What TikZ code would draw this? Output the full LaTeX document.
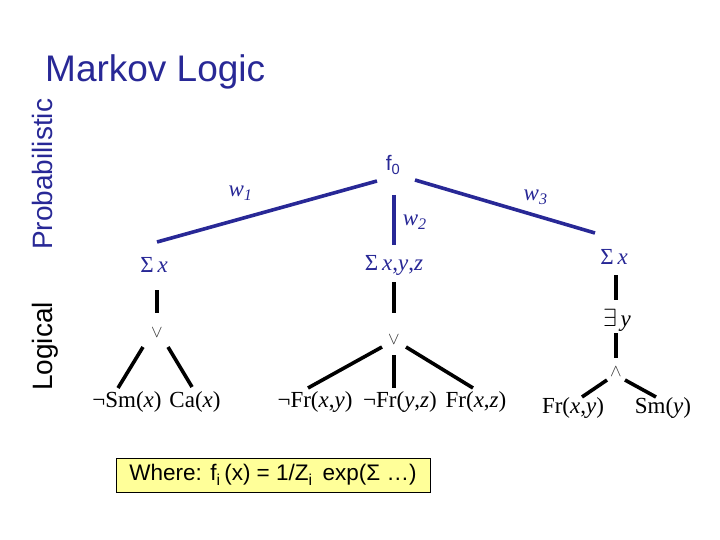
\documentclass[tikz,border=0pt]{standalone}
\usepackage{fontspec}
\setmainfont{Liberation Serif}
\setsansfont{Liberation Sans}
\usetikzlibrary{calc}
\definecolor{mlblue}{RGB}{40,40,150}
\definecolor{notefill}{RGB}{255,255,153}

\begin{document}
\begin{tikzpicture}[
  x=1pt, y=-1pt,
  lbl/.style={inner sep=1pt, font=\fontsize{23}{26}\selectfont},
  qnt/.style={lbl, text=mlblue},
  op/.style={inner sep=1pt, font=\fontsize{16}{16}\selectfont, text=black!80},
  wt/.style={inner sep=1pt, font=\fontsize{23}{26}\selectfont\itshape, text=mlblue},
  blu/.style={draw=mlblue, line width=3.6pt},
  blk/.style={draw=black, line width=3.6pt},
  side/.style={rotate=90, anchor=base west, inner sep=0pt, font=\sffamily\fontsize{28}{30}\selectfont}
]
  \useasboundingbox (0,0) rectangle (720,540);

  \node[anchor=base west, inner sep=0pt, text=mlblue, font=\sffamily\fontsize{37}{40}\selectfont] (title) at (45,82) {Markov Logic};
  \node[side, text=mlblue] (prob) at (52,250) {Probabilistic};
  \node[side] (logic) at (52,391) {Logical};

  \node[inner sep=1pt, text=mlblue, font=\sffamily\fontsize{21}{24}\selectfont] (f0) at (393,165) {f\textsubscript{0}};
  \node[qnt] (sx1) at (154,265) {Σ\,\textit{x}};
  \node[qnt] (sxyz) at (394,265) {Σ\,\textit{x},\textit{y},\textit{z}};
  \node[qnt] (sx3) at (614,257) {Σ\,\textit{x}};
  \node[op] (or1) at (157,333) {$\vee$};
  \node[op] (or2) at (394,340) {$\vee$};
  \node[lbl] (ex) at (617,320) {$\exists$\,\textit{y}};
  \node[op] (and) at (616,372) {$\wedge$};

  \node[lbl] (smx) at (127,402) {¬Sm(\textit{x})};
  \node[lbl] (cax) at (195,402) {Ca(\textit{x})};
  \node[lbl] (frxy) at (315,402) {¬Fr(\textit{x},\textit{y})};
  \node[lbl] (fryz) at (400,402) {¬Fr(\textit{y},\textit{z})};
  \node[lbl] (frxz) at (476,402) {Fr(\textit{x},\textit{z})};
  \node[lbl] (fr) at (573,408) {Fr(\textit{x},\textit{y})};
  \node[lbl] (smy) at (663,408) {Sm(\textit{y})};

  \draw[blu] ($(f0)+(-16,16)$) -- node[wt, pos=0.62, above=16pt] {w\textsubscript{1}} ($(sx1)+(3,-23)$);
  \draw[blu] ($(f0)+(1,30)$) -- node[wt, pos=0.55, right=6pt] {w\textsubscript{2}} ($(sxyz)+(0,-20)$);
  \draw[blu] ($(f0)+(22,15)$) -- node[wt, pos=0.67, above=8pt] {w\textsubscript{3}} ($(sx3)+(-19,-24)$);

  \draw[blk] ($(sx1)+(3,25)$) -- ($(or1)+(0,-20)$);
  \draw[blk] ($(or1)+(-14,14)$) -- ($(smx)+(-9,-14)$);
  \draw[blk] ($(or1)+(11,14)$) -- ($(cax)+(-3,-15)$);

  \draw[blk] ($(sxyz)+(0,17)$) -- ($(or2)+(0,-27)$);
  \draw[blk] ($(or2)+(-12,7)$) -- ($(frxy)+(-7,-14)$);
  \draw[blk] ($(or2)+(0,15)$) -- ($(fryz)+(-6,-14)$);
  \draw[blk] ($(or2)+(12,7)$) -- ($(frxz)+(-3,-14)$);

  \draw[blk] ($(sx3)+(2,18)$) -- ($(ex)+(-1,-20)$);
  \draw[blk] ($(ex)+(-1,13)$) -- ($(and)+(0,-14)$);
  \draw[blk] ($(and)+(-9,8)$) -- ($(fr)+(9,-11)$);
  \draw[blk] ($(and)+(9,8)$) -- ($(smy)+(-7,-11)$);

  \node[draw, fill=notefill, line width=0.8pt, inner xsep=3pt, minimum width=314pt, minimum height=34pt,
    font=\sffamily\fontsize{22.5}{24}\selectfont] (note) at (273,475)
    {Where: f\textsubscript{i}\,(x) = 1/Z\textsubscript{i}\, exp(Σ …)};
\end{tikzpicture}
\end{document}
